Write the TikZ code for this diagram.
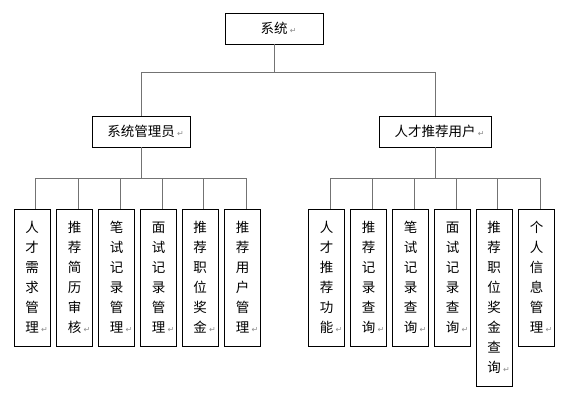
\documentclass[tikz,border=0pt]{standalone}
\usepackage{fontspec}
\setmainfont{Noto Sans CJK SC}
\newfontfamily\symfont{DejaVu Sans}
\newcommand\retmark{\rlap{\,\textcolor{black!45}{\symfont\fontsize{8}{8}\selectfont ↵}}}
\newcommand\lstrut{\vrule height 12.5pt depth 3pt width 0pt}
\begin{document}
\begin{tikzpicture}[x=1pt,y=-1pt,
  box/.style={draw=black,line width=0.8pt,fill=white,font=\fontsize{13.5}{16}\selectfont,inner sep=0pt,minimum height=31pt},
  leaf/.style={draw=black,line width=0.8pt,minimum width=36pt,inner xsep=0pt,inner ysep=10.5pt,align=center,anchor=north,font=\fontsize{13.5}{20}\selectfont},
  conn/.style={draw=black!55,line width=0.8pt}]
\useasboundingbox (0,0) rectangle (570,404);
\node[box,minimum width=98pt] (sys) at (274,28.5) {系统\retmark};
\node[box,minimum width=98pt] (adm) at (141,131.5) {系统管理员\retmark};
\node[box,minimum width=112pt] (usr) at (435,131.5) {人才推荐用户\retmark};

\node[leaf] (a1) at (32,209) {\lstrut 人\\才\\需\\求\\管\\理\lstrut\retmark};
\node[leaf] (a2) at (74.5,209) {\lstrut 推\\荐\\简\\历\\审\\核\lstrut\retmark};
\node[leaf] (a3) at (116.5,209) {\lstrut 笔\\试\\记\\录\\管\\理\lstrut\retmark};
\node[leaf] (a4) at (158.5,209) {\lstrut 面\\试\\记\\录\\管\\理\lstrut\retmark};
\node[leaf] (a5) at (200,209) {\lstrut 推\\荐\\职\\位\\奖\\金\lstrut\retmark};
\node[leaf] (a6) at (242.5,209) {\lstrut 推\\荐\\用\\户\\管\\理\lstrut\retmark};

\node[leaf] (b1) at (326.5,209) {\lstrut 人\\才\\推\\荐\\功\\能\lstrut\retmark};
\node[leaf] (b2) at (368.5,209) {\lstrut 推\\荐\\记\\录\\查\\询\lstrut\retmark};
\node[leaf] (b3) at (410.5,209) {\lstrut 笔\\试\\记\\录\\查\\询\lstrut\retmark};
\node[leaf] (b4) at (452.5,209) {\lstrut 面\\试\\记\\录\\查\\询\lstrut\retmark};
\node[leaf] (b5) at (494,209) {\lstrut 推\\荐\\职\\位\\奖\\金\\查\\询\lstrut\retmark};
\node[leaf] (b6) at (536.5,209) {\lstrut 个\\人\\信\\息\\管\\理\lstrut\retmark};

\draw[conn] (sys.south) -- ++(0,28) -| (adm.north);
\draw[conn] (sys.south) -- ++(0,28) -| (usr.north);
\foreach \n in {a1,a2,a3,a4,a5,a6}
  \draw[conn] (adm.south) -- ++(0,31) -| ([xshift=3.5pt]\n.north);
\foreach \n in {b1,b2,b3,b4,b5,b6}
  \draw[conn] (usr.south) -- ++(0,31) -| ([xshift=3.5pt]\n.north);
\end{tikzpicture}
\end{document}
